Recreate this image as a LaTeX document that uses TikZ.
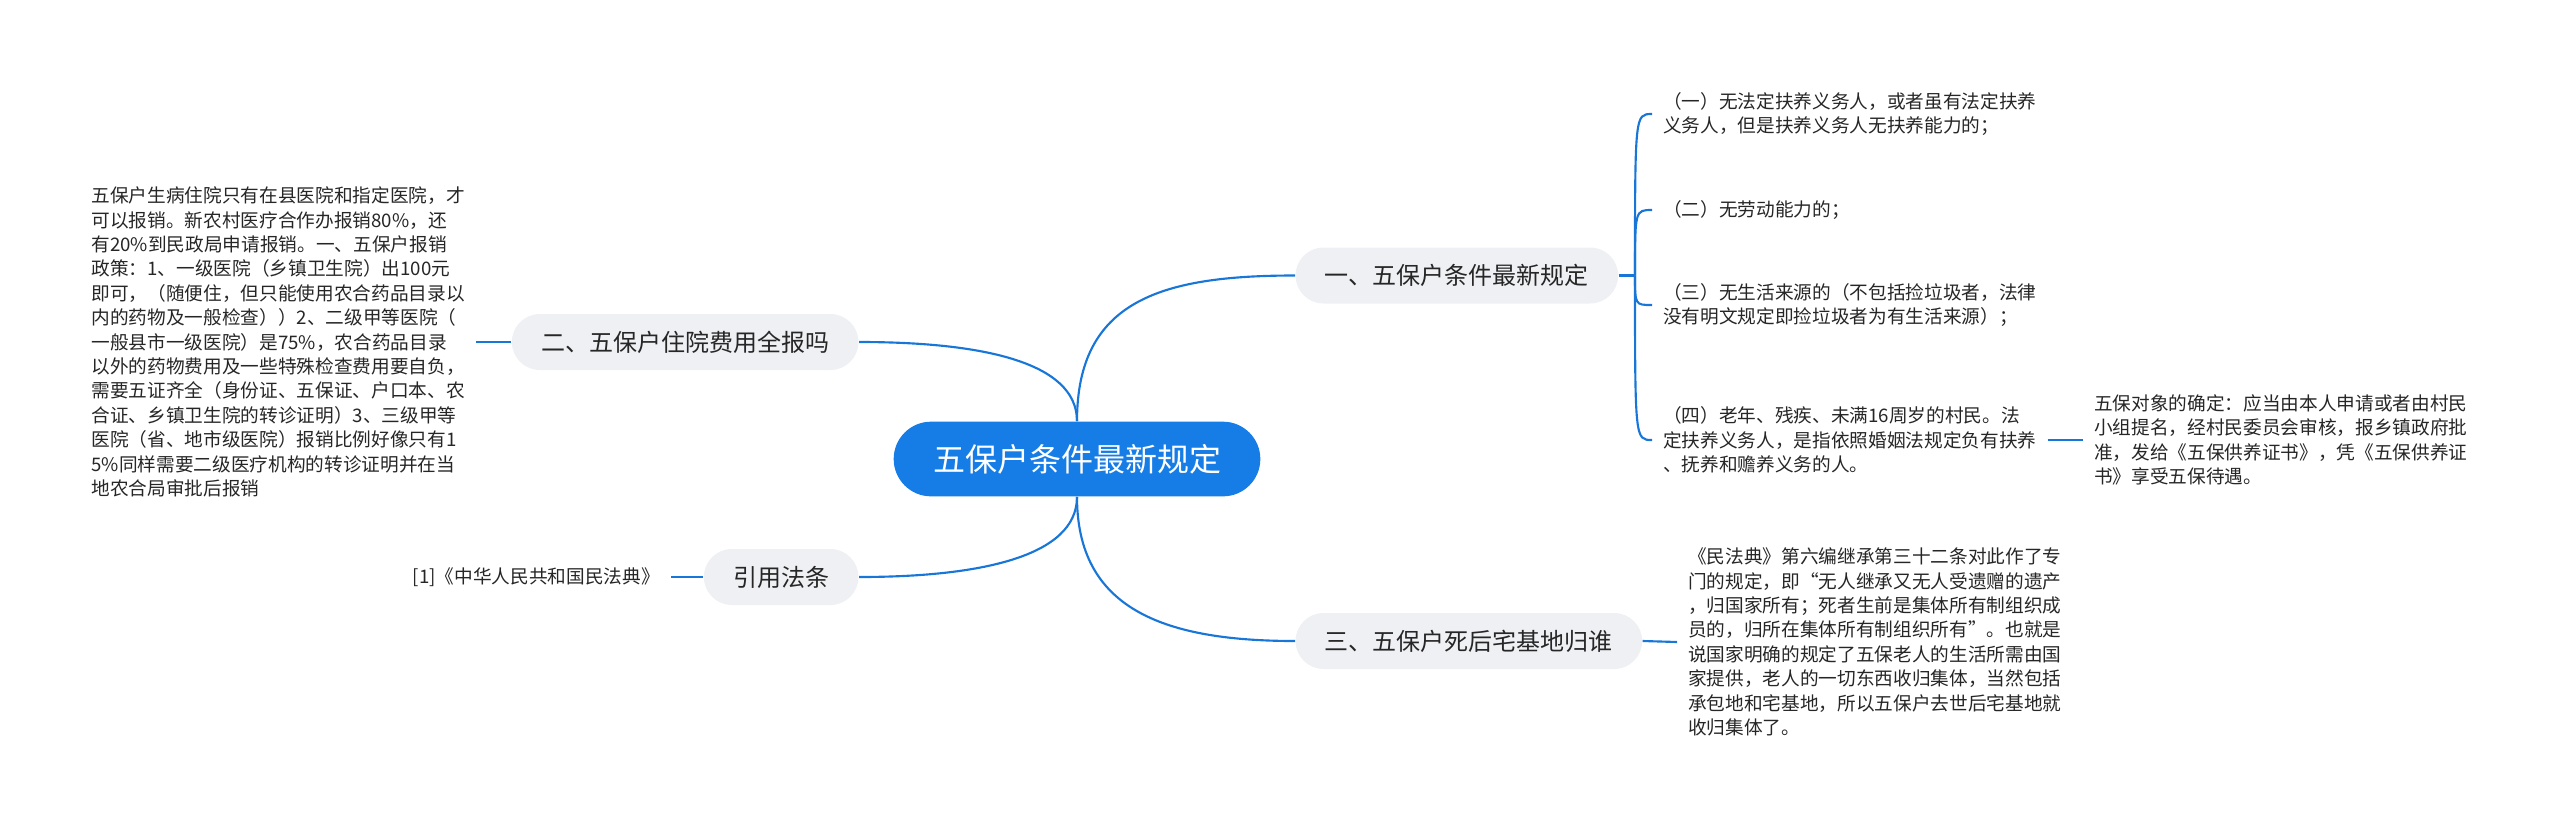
\documentclass[tikz,border=0pt]{standalone}
\usepackage{fontspec}
\setmainfont{Noto Sans CJK SC}

\definecolor{mapblue}{RGB}{22,125,230}
\definecolor{lineblue}{RGB}{24,118,216}
\definecolor{topicgrey}{RGB}{238,240,243}
\definecolor{inkgrey}{RGB}{38,38,38}

\tikzset{every picture/.style={line width=0.75pt}}
\tikzset{
  conn/.style={draw=lineblue, line width=1.6pt},
  rootnode/.style={fill=mapblue, text=white, rounded corners=28pt, minimum height=56pt, minimum width=275pt, font=\fontsize{24}{28}\selectfont},
  branchnode/.style={fill=topicgrey, text=inkgrey, rounded corners=21pt, minimum height=42pt, inner xsep=22pt, font=\fontsize{18}{22}\selectfont},
  leafnode/.style={align=left, inner xsep=8pt, inner ysep=0pt, text=inkgrey, font=\fontsize{14}{18.3}\selectfont},
}

\begin{document}
\begin{tikzpicture}[x=0.75pt,y=0.75pt,yscale=-1,xscale=1]
\useasboundingbox (0,0) rectangle (2560,829);

% Central topic
\draw (1077,459) node (root) [rootnode] {五保户条件最新规定};
% Main topics
\draw (1295,275.5) node (b1) [branchnode, anchor=west] {一、五保户条件最新规定};
\draw (1295,641) node (b3) [branchnode, anchor=west] {三、五保户死后宅基地归谁};
\draw (859,342) node (b2) [branchnode, anchor=east] {二、五保户住院费用全报吗};
\draw (859,577) node (bref) [branchnode, anchor=east] {引用法条};

% Text Node
\draw (1652,114) node (qa) [leafnode, anchor=west] {（一）无法定扶养义务人，或者虽有法定扶养\\义务人，但是扶养义务人无扶养能力的；};
% Text Node
\draw (1652,210) node (qb) [leafnode, anchor=west] {（二）无劳动能力的；};
% Text Node
\draw (1652,305) node (qc) [leafnode, anchor=west] {（三）无生活来源的（不包括捡垃圾者，法律\\没有明文规定即捡垃圾者为有生活来源）；};
% Text Node
\draw (1652,440) node (qd) [leafnode, anchor=west] {（四）老年、残疾、未满16周岁的村民。法\\定扶养义务人，是指依照婚姻法规定负有扶养\\、抚养和赡养义务的人。};
% Text Node
\draw (2083,440) node (qe) [leafnode, anchor=west] {五保对象的确定：应当由本人申请或者由村民\\小组提名，经村民委员会审核，报乡镇政府批\\准，发给《五保供养证书》，凭《五保供养证\\书》享受五保待遇。};
% Text Node
\draw (1677,642) node (land) [leafnode, anchor=west] {《民法典》第六编继承第三十二条对此作了专\\门的规定，即“无人继承又无人受遗赠的遗产\\，归国家所有；死者生前是集体所有制组织成\\员的，归所在集体所有制组织所有”。也就是\\说国家明确的规定了五保老人的生活所需由国\\家提供，老人的一切东西收归集体，当然包括\\承包地和宅基地，所以五保户去世后宅基地就\\收归集体了。};
% Text Node
\draw (476,342) node (hosp) [leafnode, anchor=east] {五保户生病住院只有在县医院和指定医院，才\\可以报销。新农村医疗合作办报销80\%，还\\有20\%到民政局申请报销。一、五保户报销\\政策：1、一级医院（乡镇卫生院）出100元\\即可，（随便住，但只能使用农合药品目录以\\内的药物及一般检查））2、二级甲等医院（\\一般县市一级医院）是75\%，农合药品目录\\以外的药物费用及一些特殊检查费用要自负，\\需要五证齐全（身份证、五保证、户口本、农\\合证、乡镇卫生院的转诊证明）3、三级甲等\\医院（省、地市级医院）报销比例好像只有1\\5\%同样需要二级医疗机构的转诊证明并在当\\地农合局审批后报销};
% Text Node
\draw (671,577) node (cite) [leafnode, anchor=east] {[1]《中华人民共和国民法典》};

%Curve Lines
\draw [conn] (root.north) .. controls +(0,-120) and +(-135,0) .. (b1.west);
\draw [conn] (root.south) .. controls +(0,110) and +(-135,0) .. (b3.west);
\draw [conn] (root.north) .. controls +(0,-60) and +(120,0) .. (b2.east);
\draw [conn] (root.south) .. controls +(0,60) and +(120,0) .. (bref.east);

%Brace
\coordinate (fork) at (1635,275.5);
\draw [conn] (b1.east) -- (fork);
\foreach \q in {qa,qb,qc,qd}
  \draw [conn] (fork) .. controls (fork |- \q.west) .. (\q.west);

%Straight Lines
\draw [conn] (qd.east) -- (qe.west);
\draw [conn] (b3.east) -- (land.west);
\draw [conn] (hosp.east) -- (b2.west);
\draw [conn] (cite.east) -- (bref.west);

\end{tikzpicture}
\end{document}
